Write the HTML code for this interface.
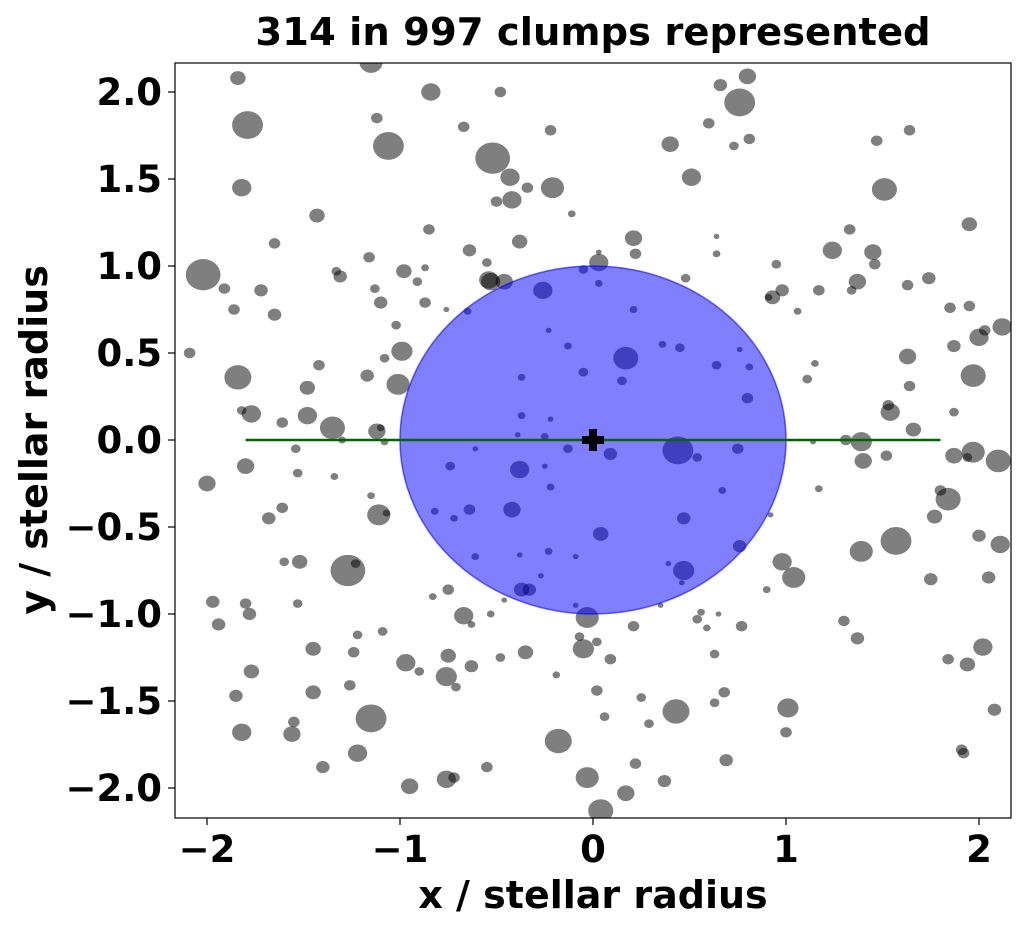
<!DOCTYPE html>
<html><head><meta charset="utf-8"><style>
body{margin:0;background:#fff;}
svg text{font-family:"DejaVu Sans","Liberation Sans",sans-serif;font-weight:bold;}
</style></head><body>
<svg id="chart" width="1028" height="929" xmlns="http://www.w3.org/2000/svg">
<text x="593" y="45" font-size="38.5" text-anchor="middle">314 in 997 clumps represented</text>
<g id="clumps"></g>
<g id="overlay"></g>
<g id="axes"></g>
<text x="593" y="908" font-size="38" text-anchor="middle">x / stellar radius</text>
<text transform="translate(47,440) rotate(-90)" font-size="38" text-anchor="middle">y / stellar radius</text>
</svg>
<script>
const clumpX=[-1.84,-1.15,-1.79,-1.12,-1.06,-0.84,-0.48,-0.67,-0.52,-0.43,-0.22,-0.21,-0.34,-0.42,-0.50,-0.11,-1.82,-1.43,-1.65,-2.02,-1.91,-1.72,-1.86,-1.65,-2.09,-1.84,-1.82,-1.77,-2.0,-1.80,-1.68,-1.61,-1.60,-1.52,-1.97,-1.80,-1.94,-1.78,-1.53,-1.77,-1.85,-1.82,-1.55,-1.56,-1.45,-1.45,-1.40,-1.22,-1.15,-1.26,-1.24,-1.22,-1.09,-1.27,-1.23,-0.95,-0.76,-0.72,-0.55,-0.97,-0.90,-0.76,-0.71,-0.75,-0.63,-0.48,-0.35,-0.67,-0.63,-0.53,-0.75,-0.83,-0.37,-0.18,-0.19,-0.05,0.02,0.02,0.09,-0.07,-0.03,0.04,0.17,0.06,-0.03,0.21,0.22,0.25,0.29,0.37,0.43,0.56,0.54,0.59,0.77,0.63,0.68,0.63,0.69,1.01,1.00,0.98,1.04,0.90,1.30,1.37,1.39,1.57,1.75,1.84,1.94,2.02,2.05,2.0,2.11,2.08,1.91,1.92,1.84,1.80,1.77,1.87,1.97,2.10,1.94,1.87,1.97,1.87,2.0,2.03,2.12,1.85,1.95,1.63,1.64,1.66,1.52,1.54,1.53,1.39,1.40,1.31,1.17,1.14,1.11,1.15,1.37,1.34,1.46,1.45,1.24,1.33,1.17,0.98,0.93,0.91,0.95,1.06,1.63,1.74,1.95,1.51,1.47,1.64,0.51,0.40,0.60,0.73,0.81,0.76,0.66,0.80,0.21,0.22,0.64,0.64,0.03,0.03,-0.05,-0.38,-0.64,-0.55,-0.85,-1.16,-0.98,-0.91,-0.87,-1.13,-1.10,-1.31,-1.33,-0.87,-1.02,-0.99,-1.08,-1.42,-1.48,-1.17,-1.01,-1.48,-1.61,-1.35,-1.30,-1.12,-1.10,-1.08,-1.54,-1.53,-1.34,-1.15,-1.11,-1.07,-0.54,-0.53,-0.46,-0.65,-0.76,-0.26,0.03,0.21,0.48,-0.23,-0.13,0.17,0.36,0.45,-0.05,0.15,-0.37,0.64,0.81,0.76,0.80,-0.37,-0.22,-0.39,-0.25,-0.13,0.09,0.44,0.54,0.75,-0.61,-0.74,-0.38,-0.25,-0.82,-0.72,-0.64,-0.42,-0.22,0.04,0.47,0.67,0.76,0.92,-0.38,-0.61,-0.23,-0.09,0.47,0.39,0.46,-0.33,-0.09,0.35,0.65,-0.46,-0.27];
const clumpY=[2.08,2.17,1.81,1.85,1.69,2.0,2.0,1.80,1.62,1.51,1.78,1.45,1.45,1.38,1.37,1.30,1.45,1.29,1.13,0.95,0.87,0.86,0.75,0.72,0.50,0.36,0.17,0.15,-0.25,-0.15,-0.45,-0.39,-0.70,-0.70,-0.93,-0.94,-1.06,-1.0,-0.94,-1.33,-1.47,-1.68,-1.62,-1.69,-1.45,-1.2,-1.88,-1.80,-1.60,-1.41,-1.22,-1.12,-1.10,-0.75,-0.71,-1.99,-1.95,-1.94,-1.88,-1.28,-1.33,-1.36,-1.42,-1.24,-1.30,-1.25,-1.22,-1.01,-1.06,-1.00,-0.86,-0.90,-0.86,-1.73,-1.35,-1.20,-1.44,-1.16,-1.26,-1.13,-1.94,-2.13,-2.03,-1.59,-1.02,-1.07,-1.86,-1.48,-1.63,-1.96,-1.56,-0.99,-1.03,-1.08,-1.07,-1.23,-1.45,-1.51,-1.84,-1.54,-1.68,-0.70,-0.79,-0.86,-1.04,-1.14,-0.64,-0.58,-0.80,-1.26,-1.29,-1.19,-0.79,-0.55,-0.60,-1.55,-1.78,-1.80,-0.34,-0.29,-0.44,-0.09,-0.07,-0.12,-0.10,0.16,0.37,0.54,0.59,0.63,0.65,0.76,0.77,0.48,0.31,0.06,-0.09,0.16,0.20,-0.01,-0.12,0.0,-0.28,-0.01,0.35,0.44,0.91,0.86,1.01,1.08,1.09,1.21,0.86,0.86,0.82,0.82,1.01,0.74,0.89,0.93,1.24,1.44,1.72,1.78,1.51,1.70,1.82,1.69,1.73,1.94,2.04,2.09,1.16,1.07,1.07,1.17,1.02,1.08,0.98,1.14,1.09,1.02,1.21,1.05,0.97,0.91,0.99,0.87,0.79,0.94,0.97,0.79,0.66,0.51,0.47,0.43,0.30,0.37,0.32,0.14,0.10,0.07,0.0,0.05,0.07,-0.01,-0.05,-0.19,-0.21,-0.32,-0.43,-0.42,0.92,0.91,0.91,0.74,0.75,0.86,0.90,0.75,0.93,0.63,0.54,0.47,0.55,0.53,0.39,0.34,0.36,0.43,0.42,0.52,0.24,0.14,0.12,0.03,0.02,-0.05,-0.08,-0.06,-0.10,-0.05,-0.05,-0.15,-0.17,-0.15,-0.41,-0.45,-0.40,-0.40,-0.27,-0.54,-0.45,-0.29,-0.61,-0.43,-0.66,-0.67,-0.64,-0.67,-0.75,-0.71,-0.82,-0.86,-0.95,-0.95,-1.0,-0.92,-0.78];
const clumpR=[0.04,0.06,0.08,0.03,0.08,0.05,0.03,0.03,0.09,0.05,0.03,0.06,0.03,0.05,0.03,0.02,0.05,0.04,0.03,0.09,0.03,0.035,0.03,0.035,0.03,0.07,0.025,0.05,0.045,0.045,0.035,0.03,0.025,0.04,0.035,0.03,0.035,0.035,0.025,0.04,0.035,0.05,0.03,0.045,0.04,0.04,0.035,0.05,0.08,0.03,0.03,0.025,0.025,0.09,0.025,0.045,0.05,0.03,0.03,0.05,0.025,0.055,0.025,0.04,0.035,0.025,0.04,0.05,0.02,0.02,0.03,0.02,0.04,0.07,0.02,0.055,0.03,0.025,0.03,0.025,0.06,0.065,0.045,0.025,0.06,0.03,0.03,0.025,0.025,0.035,0.07,0.02,0.025,0.02,0.03,0.025,0.03,0.025,0.035,0.055,0.03,0.05,0.06,0.02,0.03,0.035,0.06,0.08,0.035,0.03,0.04,0.05,0.035,0.035,0.05,0.035,0.03,0.03,0.065,0.03,0.04,0.045,0.06,0.065,0.025,0.025,0.065,0.035,0.05,0.03,0.05,0.03,0.03,0.045,0.03,0.04,0.03,0.05,0.03,0.055,0.045,0.03,0.02,0.015,0.025,0.02,0.045,0.025,0.03,0.045,0.05,0.03,0.03,0.035,0.04,0.02,0.025,0.02,0.03,0.035,0.04,0.065,0.03,0.03,0.05,0.045,0.03,0.025,0.03,0.08,0.035,0.045,0.045,0.03,0.02,0.015,0.05,0.015,0.025,0.04,0.035,0.025,0.03,0.03,0.04,0.025,0.02,0.025,0.035,0.035,0.025,0.03,0.025,0.055,0.025,0.03,0.04,0.035,0.06,0.05,0.03,0.065,0.02,0.045,0.02,0.02,0.025,0.025,0.02,0.02,0.06,0.02,0.05,0.05,0.045,0.02,0.015,0.05,0.02,0.02,0.025,0.015,0.02,0.065,0.02,0.025,0.025,0.025,0.02,0.025,0.02,0.015,0.03,0.02,0.015,0.015,0.02,0.025,0.035,0.08,0.025,0.03,0.015,0.025,0.05,0.015,0.02,0.02,0.03,0.045,0.02,0.04,0.035,0.02,0.035,0.015,0.015,0.02,0.02,0.015,0.055,0.015,0.015,0.035,0.015,0.015,0.015,0.015,0.015];
const xTicks=[-2,-1,0,1,2];
const yTicks=[-2.0,-1.5,-1.0,-0.5,0.0,0.5,1.0,1.5,2.0];
const starRadius=[1];
const chordX=[-1.8,1.8];

const NS='http://www.w3.org/2000/svg';
const L=175,R=1011,T=63,B=818;
const sx=v=>593+v*193;
const sy=v=>440-v*174;
function mk(tag,attrs,parent){const e=document.createElementNS(NS,tag);for(const k in attrs)e.setAttribute(k,attrs[k]);parent.appendChild(e);return e;}
const svg=document.getElementById('chart');
const cg=document.getElementById('clumps');
const og=document.getElementById('overlay');
const ag=document.getElementById('axes');
const defs=mk('defs',{},svg);
const cp=mk('clipPath',{id:'plotclip'},defs);
mk('rect',{x:L,y:T,width:R-L,height:B-T},cp);
cg.setAttribute('clip-path','url(#plotclip)');
for(let i=0;i<clumpX.length;i++){
  const e=mk('ellipse',{cx:sx(clumpX[i]),cy:sy(clumpY[i]),rx:clumpR[i]*193,ry:clumpR[i]*174,fill:'rgba(0,0,0,0.5)'},cg);
  
  
}
const star=mk('ellipse',{cx:sx(0),cy:sy(0),rx:starRadius[0]*193,ry:starRadius[0]*174,fill:'rgba(0,0,255,0.5)',stroke:'rgba(0,0,255,0.6)','stroke-width':1.5},og);


const chord=mk('line',{x1:sx(chordX[0]),x2:sx(chordX[1]),y1:sy(0),y2:sy(0),stroke:'#006400','stroke-width':2.5},og);


const plus=mk('path',{d:`M${sx(0)-11} ${sy(0)-4}h7v-7h8v7h7v8h-7v7h-8v-7h-7z`,fill:'#000'},og);


const frame=mk('rect',{x:L,y:T,width:R-L,height:B-T,fill:'none',stroke:'#000','stroke-width':1.2},ag);


const fmt=v=>(v<0?'\u2212':'')+Math.abs(v);
xTicks.forEach(v=>{
  mk('line',{x1:sx(v),x2:sx(v),y1:B,y2:B+7,stroke:'#000','stroke-width':1.2},ag);
  const t=mk('text',{x:sx(v),y:B+44,'font-size':37,'text-anchor':'middle'},ag);
  t.textContent=fmt(v);
  
  
});
yTicks.forEach(v=>{
  mk('line',{x1:L-7,x2:L,y1:sy(v),y2:sy(v),stroke:'#000','stroke-width':1.2},ag);
  const t=mk('text',{x:L-13,y:sy(v)+13,'font-size':37,'text-anchor':'end'},ag);
  t.textContent=(v<0?'\u2212':'')+Math.abs(v).toFixed(1);
  
  
});
</script>
</body></html>
